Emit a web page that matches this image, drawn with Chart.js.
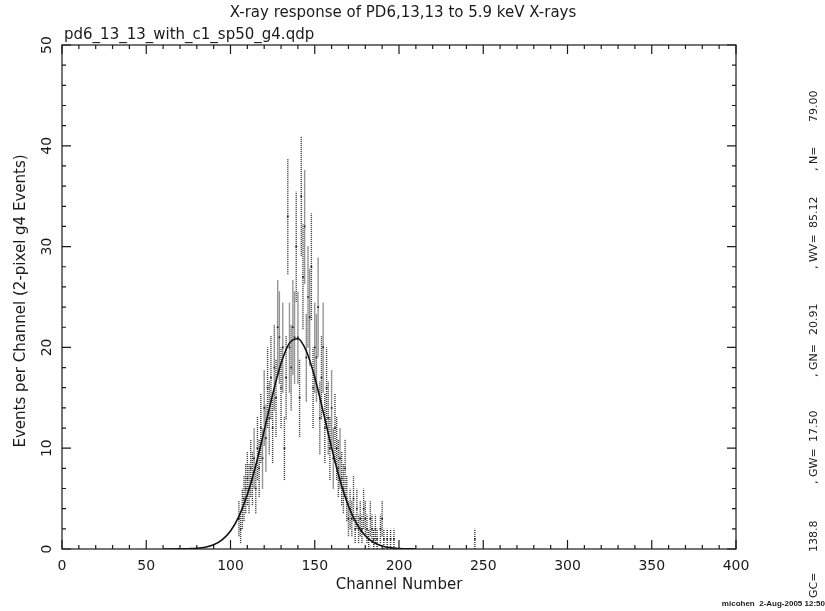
<!DOCTYPE html>
<html>
<head>
<meta charset="utf-8">
<script src="https://cdn.jsdelivr.net/npm/chart.js@4.4.1/dist/chart.umd.min.js"></script>
<style>
  html, body { margin: 0; padding: 0; background: #fff; }
  #box { width: 825px; height: 611px; }
</style>
</head>
<body>
<div id="box"><canvas id="spectrum" width="825" height="611"></canvas></div>
<script>
// texts
var titleText = "X-ray response of PD6,13,13 to 5.9 keV X-rays";
var fileText = "pd6_13_13_with_c1_sp50_g4.qdp";
var xTitle = "Channel Number";
var yTitle = "Events per Channel (2-pixel g4 Events)";
var stampText = "micohen  2-Aug-2005 12:50";
var fitNames = ["GC=", ", GW=", ", GN=", ", WV=", ", N="];
var fitNumbers = ["138.8", "17.50", "20.91", "85.12", "79.00"];

// tick labels
var xTickLabels = [0, 50, 100, 150, 200, 250, 300, 350, 400];
var yTickLabels = [0, 10, 20, 30, 40, 50];

// measured spectrum : channel and events in that channel (errors are sqrt(N))
var channels = [105, 106, 107, 108, 109, 110, 111, 112, 113, 114,
                115, 116, 117, 118, 119, 120, 121, 122, 123, 124,
                125, 126, 127, 128, 129, 130, 131, 132, 133, 134,
                135, 136, 137, 138, 139, 140, 141, 142, 143, 144,
                145, 146, 147, 148, 149, 150, 151, 152, 153, 154,
                155, 156, 157, 158, 159, 160, 161, 162, 163, 164,
                165, 166, 167, 168, 169, 170, 171, 172, 173, 174,
                175, 176, 177, 178, 179, 180, 181, 182, 183, 184,
                185, 186, 187, 189, 190, 191, 193, 195, 197, 245];
var events = [3, 2, 4, 5, 6, 7, 6, 8, 7, 9,
              6, 10, 8, 12, 9, 14, 11, 16, 13, 17,
              12, 18, 15, 22, 21, 16, 20, 10, 17, 33,
              20, 18, 22, 21, 30, 21, 15, 35, 27, 32,
              19, 25, 23, 28, 16, 20, 19, 24, 13, 17,
              20, 12, 16, 13, 10, 14, 9, 12, 10, 8,
              9, 7, 6, 8, 5, 3, 4, 3, 5, 2,
              4, 2, 3, 2, 4, 3, 2, 1, 3, 2,
              1, 2, 1, 2, 3, 1, 1, 1, 1, 1];

// gaussian fit curve
var fitChannels = [60, 70, 75, 80, 85, 90, 95, 100, 105, 110, 115, 120, 125, 130,
                   135, 140, 145, 150, 155, 160, 165, 170, 175, 180, 185, 190, 195, 200, 210];
var fitValues = [0, 0.01, 0.03, 0.07, 0.18, 0.43, 0.91, 1.79, 3.24, 5.4, 8.29, 11.74, 15.32, 18.42,
                 20.42, 20.86, 19.64, 17.04, 13.63, 10.04, 6.82, 4.27, 2.46, 1.31, 0.64, 0.29, 0.12, 0.05, 0];

var ink = "#1a1a1a";
var font = "'DejaVu Sans', sans-serif";

var dataPoints = channels.map(function(c, i) { return {x: c, y: events[i]}; });
var fitPoints = fitChannels.map(function(c, i) { return {x: c, y: fitValues[i]}; });

// where each piece of the fit summary starts (bottom end of the rotated text)
var nameStartY = [598, 484, 377, 269, 171];
var numberStartY = [552, 442, 335, 228, 122];

var qdpLook = {
  id: 'qdpLook',
  beforeDatasetsDraw: function(chart) {
    var ctx = chart.ctx, xs = chart.scales.x, ys = chart.scales.y;
    ctx.save();
    ctx.strokeStyle = "#2e2e2e";
    ctx.lineWidth = 1.4;
    ctx.setLineDash([1, 1]);
    for (var i = 0; i < channels.length; i++) {
      var err = Math.sqrt(events[i]);
      var px = xs.getPixelForValue(channels[i]);
      ctx.beginPath();
      ctx.moveTo(px, ys.getPixelForValue(events[i] - err));
      ctx.lineTo(px, ys.getPixelForValue(events[i] + err));
      ctx.stroke();
    }
    ctx.restore();
  },
  afterDraw: function(chart) {
    var ctx = chart.ctx, xs = chart.scales.x, ys = chart.scales.y, a = chart.chartArea;
    ctx.save();
    ctx.strokeStyle = ink;
    ctx.lineWidth = 1.2;
    ctx.strokeRect(a.left, a.top, a.right - a.left, a.bottom - a.top);

    // inward ticks
    ctx.beginPath();
    for (var v = 0; v <= 400; v += 10) {
      var px = xs.getPixelForValue(v);
      var len = (v % 50 === 0) ? 9 : 4;
      ctx.moveTo(px, a.bottom); ctx.lineTo(px, a.bottom - len);
      ctx.moveTo(px, a.top); ctx.lineTo(px, a.top + len);
    }
    for (var w = 0; w <= 50; w += 2) {
      var py = ys.getPixelForValue(w);
      var l2 = (w % 10 === 0) ? 9 : 4;
      ctx.moveTo(a.left, py); ctx.lineTo(a.left + l2, py);
      ctx.moveTo(a.right, py); ctx.lineTo(a.right - l2, py);
    }
    ctx.stroke();

    ctx.fillStyle = ink;
    ctx.font = "14px " + font;
    ctx.textAlign = "center";
    ctx.textBaseline = "middle";
    xTickLabels.forEach(function(t) {
      ctx.fillText(String(t), xs.getPixelForValue(t), a.bottom + 17);
    });
    yTickLabels.forEach(function(t) {
      ctx.save();
      ctx.translate(a.left - 15, ys.getPixelForValue(t));
      ctx.rotate(-Math.PI / 2);
      ctx.fillText(String(t), 0, 0);
      ctx.restore();
    });

    // titles
    ctx.font = "15px " + font;
    ctx.textBaseline = "alphabetic";
    ctx.fillText(titleText, 403, 17);
    ctx.fillText(xTitle, (a.left + a.right) / 2, 589);
    ctx.textAlign = "left";
    ctx.fillText(fileText, a.left + 2, 39);
    ctx.save();
    ctx.translate(25, (a.top + a.bottom) / 2 + 4);
    ctx.rotate(-Math.PI / 2);
    ctx.textAlign = "center";
    ctx.fillText(yTitle, 0, 0);
    ctx.restore();

    // fit parameters down the right side
    ctx.font = "11px " + font;
    ctx.textAlign = "left";
    for (var k = 0; k < fitNames.length; k++) {
      ctx.save();
      ctx.translate(817, nameStartY[k]);
      ctx.rotate(-Math.PI / 2);
      ctx.fillText(fitNames[k], 0, 0);
      ctx.restore();
      ctx.save();
      ctx.translate(817, numberStartY[k]);
      ctx.rotate(-Math.PI / 2);
      ctx.fillText(fitNumbers[k], 0, 0);
      ctx.restore();
    }

    ctx.font = "bold 8px 'Liberation Sans', sans-serif";
    ctx.textAlign = "right";
    ctx.fillText(stampText, 825, 606);
    ctx.restore();
  }
};

new Chart(document.getElementById("spectrum").getContext("2d"), {
  data: {
    datasets: [{
      type: 'line',
      label: 'fit',
      data: fitPoints,
      borderColor: '#111',
      borderWidth: 1.6,
      pointRadius: 0,
      fill: false,
      cubicInterpolationMode: 'monotone'
    }, {
      type: 'scatter',
      label: 'events',
      data: dataPoints,
      pointRadius: 1.2,
      pointStyle: 'rect',
      backgroundColor: '#222',
      borderWidth: 0
    }]
  },
  options: {
    responsive: false,
    animation: false,
    devicePixelRatio: 1,
    layout: { padding: { left: 62, right: 89, top: 45, bottom: 62 } },
    scales: {
      x: { type: 'linear', min: 0, max: 400, display: false },
      y: { type: 'linear', min: 0, max: 50, display: false }
    },
    plugins: {
      legend: { display: false },
      tooltip: { enabled: false }
    }
  },
  plugins: [qdpLook]
});
</script>
</body>
</html>
